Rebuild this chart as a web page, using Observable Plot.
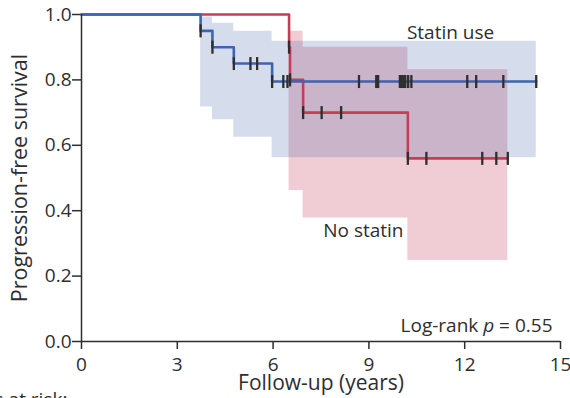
<!DOCTYPE html>
<html>
<head>
<meta charset="utf-8">
<script src="https://cdn.jsdelivr.net/npm/d3@7"></script>
<script src="https://cdn.jsdelivr.net/npm/@observablehq/plot@0.6"></script>
<style>
  body { margin: 0; background: #fff; overflow: hidden; }
  #chart svg { display: block; }
</style>
</head>
<body>
<div id="chart"></div>
<script>
// ---- Kaplan–Meier step curves (years, survival) ----
const statinTime     = [0, 3.73, 4.10, 4.77, 5.97, 14.24];
const statinSurv     = [1.0, 0.95, 0.90, 0.85, 0.795, 0.795];
const noStatinTime   = [0, 6.50, 6.53, 6.94, 10.22, 13.35];
const noStatinSurv   = [1.0, 0.90, 0.80, 0.70, 0.56, 0.56];

// ---- 95% confidence bands ----
const statinBandTime  = [3.73, 4.10, 4.77, 5.97, 14.24];
const statinBandUpper = [0.992, 0.973, 0.949, 0.918, 0.918];
const statinBandLower = [0.717, 0.678, 0.625, 0.562, 0.562];
const noStatinBandTime  = [6.50, 6.94, 10.22, 13.35];
const noStatinBandUpper = [0.949, 0.900, 0.831, 0.831];
const noStatinBandLower = [0.462, 0.378, 0.248, 0.248];

// ---- censoring marks ----
const statinCensorTime = [3.73, 4.10, 4.77, 5.29, 5.50, 5.97, 6.32, 6.45, 8.69, 9.23, 9.29, 9.97, 10.03, 10.09, 10.14, 10.23, 10.33, 12.08, 12.36, 13.21, 14.24];
const statinCensorSurv = [0.95, 0.90, 0.85, 0.85, 0.85, 0.795, 0.795, 0.795, 0.795, 0.795, 0.795, 0.795, 0.795, 0.795, 0.795, 0.795, 0.795, 0.795, 0.795, 0.795, 0.795];
const noStatinCensorTime = [6.50, 6.53, 6.94, 7.52, 8.13, 10.22, 10.80, 12.55, 12.99, 13.35];
const noStatinCensorSurv = [0.90, 0.80, 0.70, 0.70, 0.70, 0.56, 0.56, 0.56, 0.56, 0.56];

// ---- axes & labels ----
const xTicks = [0, 3, 6, 9, 12, 15];
const yTicks = [0, 0.2, 0.4, 0.6, 0.8, 1.0];
const xTitle = "Follow-up (years)";
const yTitle = "Progression-free survival";
const groupLabels = ["Statin use", "No statin"];
const groupLabelTime = [10.19, 7.57];
const groupLabelSurv = [0.944, 0.338];
const pText = "Log-rank p = 0.55";
const riskText = "Patients at risk:";

const zip = (t, s) => t.map((x, i) => ({x, y: s[i]}));
const band = (t, lo, hi) => t.map((x, i) => ({x, y1: lo[i], y2: hi[i]}));

const statinLine = zip(statinTime, statinSurv);
const noStatinLine = zip(noStatinTime, noStatinSurv);
const statinBand = band(statinBandTime, statinBandLower, statinBandUpper);
const noStatinBand = band(noStatinBandTime, noStatinBandLower, noStatinBandUpper);
const censors = [
  ...zip(noStatinCensorTime, noStatinCensorSurv),
  ...zip(statinCensorTime, statinCensorSurv)
];
const labels = groupLabels.map((t, i) => ({t, x: groupLabelTime[i], y: groupLabelSurv[i]}));

const vbar = {
  draw(ctx, size) {
    const h = Math.sqrt(size / Math.PI);
    ctx.moveTo(0, -h);
    ctx.lineTo(0, h);
  }
};

const ink = "#2e2e2e";
const blue = "#3d63b3";
const red = "#c63d57";

const chart = Plot.plot({
  width: 570,
  height: 398,
  marginLeft: 81,
  marginRight: 10,
  marginTop: 14,
  marginBottom: 57,
  style: {fontFamily: "'Open Sans', sans-serif", fontSize: "19px", color: ink, background: "#fff"},
  x: {
    domain: [0, 15],
    ticks: xTicks,
    tickSize: 8,
    tickPadding: 8,
    label: null
  },
  y: {
    domain: [0, 1],
    ticks: yTicks,
    tickFormat: d3.format(".1f"),
    tickSize: 9,
    tickPadding: 1,
    label: null
  },
  marks: [
    Plot.areaY(noStatinBand, {x: "x", y1: "y1", y2: "y2", curve: "step-after", fill: "rgb(240,205,212)"}),
    Plot.areaY(statinBand, {x: "x", y1: "y1", y2: "y2", curve: "step-after", fill: "rgb(45,80,160)", fillOpacity: 0.2}),
    Plot.line(noStatinLine, {x: "x", y: "y", curve: "step-after", stroke: red, strokeWidth: 2.6}),
    Plot.line(statinLine, {x: "x", y: "y", curve: "step-after", stroke: blue, strokeWidth: 2.6}),
    Plot.dot(censors, {x: "x", y: "y", symbol: vbar, r: 6.5, fill: "none", stroke: ink, strokeWidth: 2.3}),
    Plot.ruleX([0], {stroke: ink, strokeWidth: 1.5}),
    Plot.ruleY([0], {stroke: ink, strokeWidth: 1.5}),
    Plot.text(labels, {x: "x", y: "y", text: "t", textAnchor: "start", lineAnchor: "middle", fill: ink}),
    Plot.text([pText], {x: 14.75, y: 0.047, text: d => d, textAnchor: "end", lineAnchor: "middle", fill: ink, className: "pval"}),
    Plot.text([xTitle], {x: 7.5, y: -0.128, text: d => d, textAnchor: "middle", lineAnchor: "middle", fill: ink, fontSize: 21}),
    Plot.text([yTitle], {x: -1.93, y: 0.5, text: d => d, rotate: -90, textAnchor: "middle", lineAnchor: "middle", fill: ink, fontSize: 21.5}),
    Plot.text([riskText], {x: -0.44, y: -0.18, text: d => d, textAnchor: "end", lineAnchor: "middle", fill: ink})
  ]
});

// italicise the "p" in the log-rank annotation
d3.select(chart).selectAll(".pval text").each(function() {
  const s = d3.select(this);
  const full = s.text();
  const i = full.indexOf(" p ");
  if (i < 0) return;
  s.text(null);
  s.append("tspan").text(full.slice(0, i + 1));
  s.append("tspan").attr("font-style", "italic").text("p");
  s.append("tspan").text(full.slice(i + 2));
});

// slightly heavier axis ticks, as in the reference
d3.select(chart).selectAll("g[aria-label$='tick']").attr("stroke-width", 1.5);

document.getElementById("chart").appendChild(chart);
</script>
</body>
</html>
